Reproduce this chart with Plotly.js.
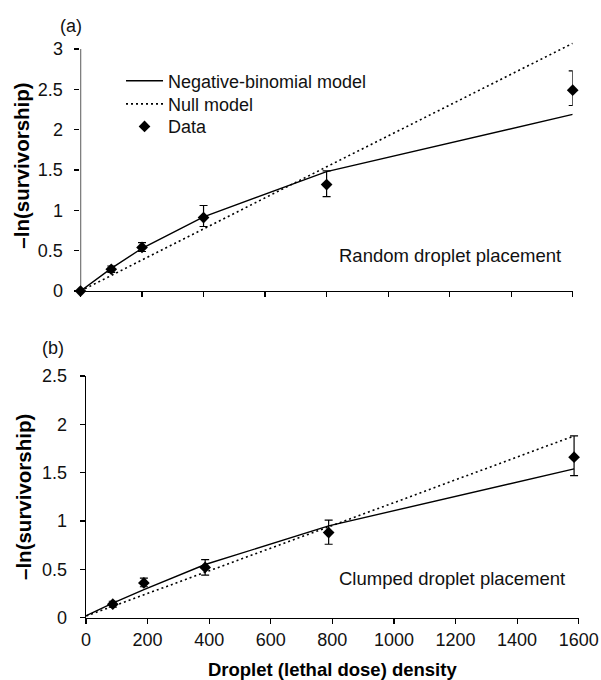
<!DOCTYPE html>
<html>
<head>
<meta charset="utf-8">
<script src="https://cdn.plot.ly/plotly-3.0.1.min.js"></script>
<style>html,body{margin:0;padding:0;background:#fff;}#chart{width:601px;height:680px;}</style>
</head>
<body>
<div id="chart"></div>
<script>
// Panel (a): random droplet placement
const doseA = [0, 100, 200, 400, 800, 1600];
const obsA = [0, 0.27, 0.54, 0.91, 1.32, 2.49];
const errUpA = [0, 0.04, 0.06, 0.15, 0.17, 0.24];
const errDnA = [0, 0.04, 0.05, 0.11, 0.15, 0.19];
const nbA = [0, 0.28, 0.53, 0.92, 1.48, 2.19];
const nullA = [0, 0.19, 0.38, 0.77, 1.54, 3.07];

// Panel (b): clumped droplet placement
const doseB = [-14, 87, 188, 387, 788, 1585];
const obsB = [0, 0.14, 0.36, 0.52, 0.88, 1.66];
const errUpB = [0, 0.03, 0.05, 0.08, 0.13, 0.22];
const errDnB = [0, 0.03, 0.04, 0.08, 0.12, 0.19];
const nbB = [0, 0.15, 0.29, 0.55, 0.95, 1.54];
const nullB = [0, 0.12, 0.235, 0.47, 0.94, 1.88];

const xTicks = [0, 200, 400, 600, 800, 1000, 1200, 1400, 1600];
const yTicksA = [0, 0.5, 1, 1.5, 2, 2.5, 3];
const yTicksB = [0, 0.5, 1, 1.5, 2, 2.5];

const FONT = 'Liberation Sans, Arial, Helvetica, sans-serif';
const INK = '#000';

function panelTraces(x, obs, up, dn, nb, nul, xa, ya, show) {
  return [
    {x: x, y: nb, xaxis: xa, yaxis: ya, type: 'scatter', mode: 'lines',
     name: 'Negative-binomial model', showlegend: show, legend: 'legend',
     line: {color: INK, width: 1.4}},
    {x: x, y: nul, xaxis: xa, yaxis: ya, type: 'scatter', mode: 'lines',
     name: 'Null model', showlegend: show, legend: 'legend2',
     line: {color: INK, width: 1.6, dash: '2px,3px'}},
    {x: x, y: obs, xaxis: xa, yaxis: ya, type: 'scatter', mode: 'markers',
     name: 'Data', showlegend: show, legend: 'legend3', cliponaxis: false,
     marker: {symbol: 'diamond', size: 9, color: INK},
     error_y: {type: 'data', symmetric: false, array: up, arrayminus: dn,
               color: INK, thickness: 1.2, width: 4}}
  ];
}

const data = [].concat(
  panelTraces(doseA, obsA, errUpA, errDnA, nbA, nullA, 'x', 'y', true),
  panelTraces(doseB, obsB, errUpB, errDnB, nbB, nullB, 'x2', 'y2', false)
);

const axBase = {
  showgrid: false, zeroline: false, showline: true, linecolor: INK, linewidth: 1.3,
  ticks: 'outside', ticklen: 5, tickwidth: 1.2, tickcolor: INK,
  tickfont: {family: FONT, size: 18, color: '#111'}, fixedrange: true
};

function legendAt(y) {
  return {x: 0.0822, xanchor: 'left', y: y, yanchor: 'top',
          bgcolor: 'rgba(0,0,0,0)', borderwidth: 0, itemwidth: 37,
          font: {family: FONT, size: 18, color: '#111'}};
}

const layout = {
  width: 601, height: 680,
  margin: {l: 80, r: 22, t: 40, b: 62},
  paper_bgcolor: '#fff', plot_bgcolor: '#fff',
  font: {family: FONT, color: INK},
  showlegend: true,
  legend: legendAt(0.961),
  legend2: legendAt(0.921),
  legend3: legendAt(0.882),
  xaxis: Object.assign({}, axBase, {domain: [0.001, 0.9874], range: [0, 1600],
           tickvals: xTicks, showticklabels: false, anchor: 'y'}),
  yaxis: Object.assign({}, axBase, {domain: [0.5657, 1], range: [0, 3.1116],
           showline: false,
           tickvals: yTicksA, ticktext: yTicksA.map(String), anchor: 'x',
           ticklabelstandoff: 8,
           title: {text: '–ln(survivorship)', standoff: 2,
                   font: {family: FONT, size: 20.5, color: INK, weight: 'bold'}}}),
  xaxis2: Object.assign({}, axBase, {domain: [0.012, 0.9994], range: [0, 1600],
           tickvals: xTicks, anchor: 'y2',
           title: {text: 'Droplet (lethal dose) density', standoff: 14,
                   font: {family: FONT, size: 18.5, color: INK, weight: 'bold'}}}),
  yaxis2: Object.assign({}, axBase, {domain: [0.0005, 0.4187], range: [0, 2.5],
           tickvals: yTicksB, ticktext: yTicksB.map(String), anchor: 'x2',
           ticklabelstandoff: 9,
           title: {text: '–ln(survivorship)', standoff: 5,
                   font: {family: FONT, size: 20.5, color: INK, weight: 'bold'}}}),
  shapes: [
    {type: 'line', xref: 'x', yref: 'y', x0: 0, x1: 0, y0: 0, y1: 3,
     line: {color: INK, width: 1.3}}
  ],
  annotations: [
    {text: '(a)', xref: 'paper', yref: 'paper', x: -0.018, y: 1.024,
     xanchor: 'center', yanchor: 'middle',
     showarrow: false, font: {family: FONT, size: 18, color: '#111'}},
    {text: '(b)', xref: 'paper', yref: 'paper', x: -0.0551, y: 0.4671,
     xanchor: 'center', yanchor: 'middle',
     showarrow: false, font: {family: FONT, size: 18, color: '#111'}},
    {text: 'Random droplet placement', xref: 'paper', yref: 'paper', x: 0.7415, y: 0.6263,
     xanchor: 'center', yanchor: 'middle',
     showarrow: false, font: {family: FONT, size: 18.5, color: '#111'}},
    {text: 'Clumped droplet placement', xref: 'paper', yref: 'paper', x: 0.7445, y: 0.0692,
     xanchor: 'center', yanchor: 'middle',
     showarrow: false, font: {family: FONT, size: 18.5, color: '#111'}}
  ]
};

Plotly.newPlot('chart', data, layout, {displayModeBar: false, staticPlot: true});
</script>
</body>
</html>
